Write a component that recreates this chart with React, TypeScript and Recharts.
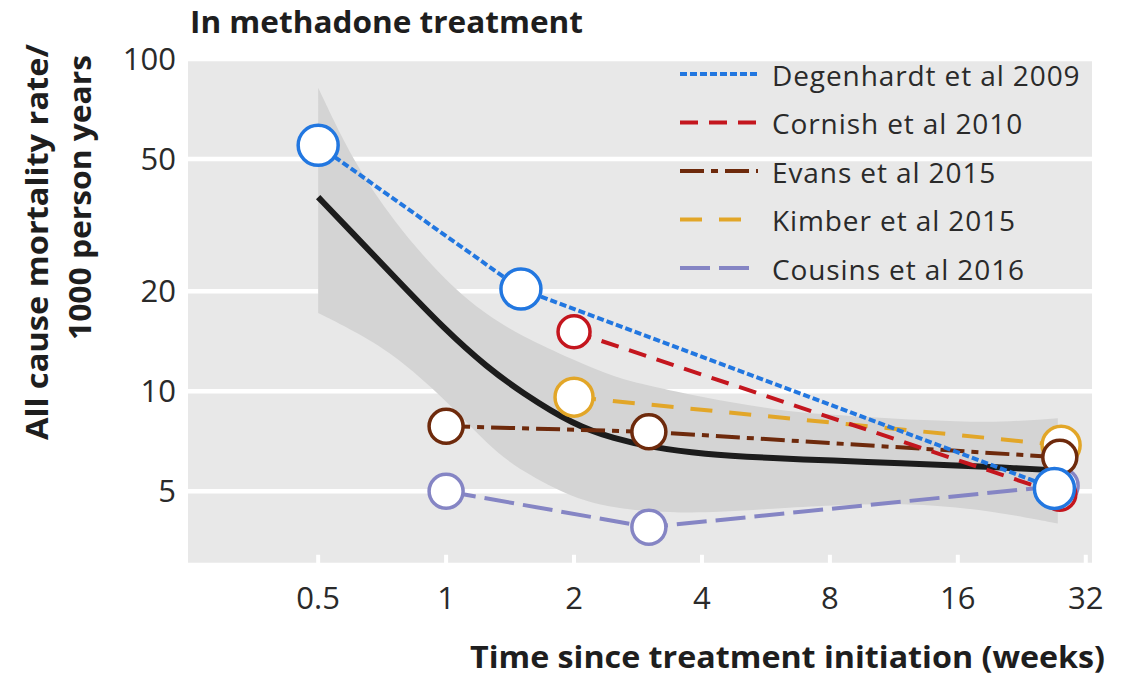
import React from "react";
import { ComposedChart, Line, Area, XAxis, YAxis, CartesianGrid, ReferenceLine } from "recharts";

const xTicks = [0.5, 1, 2, 4, 8, 16, 32];
const yTicks = [5, 10, 20, 50, 100];

// pooled fit with confidence band
const fitWeeks = [0.5, 0.6, 0.75, 1, 1.25, 1.5, 2, 2.5, 3, 4, 6, 8, 12, 16, 20, 27.5];
const fitRate = [38.4, 30.1, 22.3, 15.2, 11.8, 9.95, 7.9, 7.19, 6.81, 6.46, 6.28, 6.19, 6.07, 5.98, 5.9, 5.78];
const fitUpper = [82, 50, 32.5, 21.3, 16.9, 14.7, 12.4, 11.0, 10.4, 9.6, 8.76, 8.5, 8.23, 8.12, 8.06, 8.29];
const fitLower = [17.2, 15.3, 13.0, 9.4, 6.9, 5.75, 4.75, 4.45, 4.35, 4.29, 4.44, 4.54, 4.6, 4.47, 4.32, 4.0];

// individual studies
const degenhardtWeeks = [0.5, 1.5, 27];
const degenhardtRate = [55, 20.3, 5.1];
const cornishWeeks = [2, 27.8];
const cornishRate = [15.1, 4.9];
const evansWeeks = [1, 3, 27.8];
const evansRate = [7.85, 7.55, 6.33];
const kimberWeeks = [2, 28];
const kimberRate = [9.6, 6.88];
const cousinsWeeks = [1, 3, 28];
const cousinsRate = [5.0, 3.9, 5.2];

const fitData = fitWeeks.map((w, i) => ({
  week: w,
  rate: fitRate[i],
  band: [fitLower[i], fitUpper[i]],
}));

const toPoints = (weeks: number[], rates: number[]) =>
  weeks.map((w, i) => ({ week: w, rate: rates[i] }));

const studies = [
  { name: "Cousins et al 2016", data: toPoints(cousinsWeeks, cousinsRate), color: "#8585c4", dash: "30 9", r: 17 },
  { name: "Kimber et al 2015", data: toPoints(kimberWeeks, kimberRate), color: "#e2a628", dash: "22 17", r: 19 },
  { name: "Evans et al 2015", data: toPoints(evansWeeks, evansRate), color: "#6e2a0c", dash: "24 7 7 7", r: 17 },
  { name: "Cornish et al 2010", data: toPoints(cornishWeeks, cornishRate), color: "#c4161e", dash: "18 11", r: 16 },
  { name: "Degenhardt et al 2009", data: toPoints(degenhardtWeeks, degenhardtRate), color: "#2277e0", dash: "7 3", r: 20 },
];

const legendOrder = [4, 3, 2, 1, 0];
const legendOffsets = [0, 0, 0, 29, 0];

const FONT = "'Open Sans', 'DejaVu Sans', sans-serif";

const YTick = (props: any) => {
  const { x, y, payload } = props;
  return (
    <text x={x} y={y} dy="0.35em" textAnchor="end" fontFamily={FONT} fontSize={31} fill="#2a2a2a">
      {payload.value}
    </text>
  );
};

const XTick = (props: any) => {
  const { x, y, payload } = props;
  return (
    <text x={x} y={y + 25} dy="0.35em" textAnchor="middle" fontFamily={FONT} fontSize={31} fill="#2a2a2a">
      {payload.value}
    </text>
  );
};

export default function App() {
  return (
    <div style={{ position: "absolute", left: 0, top: 0, width: 1127, height: 676, background: "#fff" }}>
      <ComposedChart
        width={1127}
        height={676}
        data={fitData}
        margin={{ top: 59, right: 35, left: 0, bottom: 0 }}
      >
        <CartesianGrid vertical={false} fill="#e8e8e8" fillOpacity={1} stroke="#ffffff" strokeWidth={4.5} />
        <XAxis
          dataKey="week"
          type="number"
          scale="log"
          domain={[0.247, 33.1]}
          allowDataOverflow
          ticks={xTicks}
          height={111}
          tickLine={false}
          axisLine={false}
          tickSize={6}
          tickMargin={2}
          tick={<XTick />}
          interval={0}
        />
        <YAxis
          type="number"
          scale="log"
          domain={[3, 100]}
          allowDataOverflow
          ticks={yTicks}
          width={188}
          tickLine={false}
          axisLine={false}
          tickSize={6}
          tickMargin={6}
          tick={<YTick />}
          interval={0}
        />
        <Area
          dataKey="band"
          type="basis"
          stroke="none"
          fill="#d4d4d4"
          fillOpacity={1}
          isAnimationActive={false}
          dot={false}
          activeDot={false}
        />
        {xTicks.map((t) => (
          <ReferenceLine
            key={t}
            segment={[{ x: t, y: 3 }, { x: t, y: 3.22 }]}
            stroke="#ffffff"
            strokeWidth={4}
          />
        ))}
        <Line
          dataKey="rate"
          type="basis"
          stroke="#1c1c1c"
          strokeWidth={6}
          dot={false}
          activeDot={false}
          isAnimationActive={false}
        />
        {studies.map((s) => (
          <Line
            key={s.name}
            data={s.data}
            dataKey="rate"
            name={s.name}
            type="linear"
            stroke={s.color}
            strokeWidth={4}
            strokeDasharray={s.dash}
            dot={{ r: s.r, fill: "#ffffff", stroke: s.color, strokeWidth: 3.5, strokeDasharray: "none" }}
            activeDot={false}
            isAnimationActive={false}
          />
        ))}
      </ComposedChart>
      <svg
        width={1127}
        height={676}
        style={{ position: "absolute", left: 0, top: 0, pointerEvents: "none" }}
      >
        <text x={190} y={33} fontFamily={FONT} fontWeight={700} fontSize={31} fill="#1e1e1e"
          textLength={393} lengthAdjust="spacingAndGlyphs">
          In methadone treatment
        </text>
        <text transform="translate(48,44) rotate(-90)" textAnchor="end" fontFamily={FONT} fontWeight={700}
          fontSize={31} fill="#1e1e1e" textLength={396} lengthAdjust="spacingAndGlyphs">
          All cause mortality rate/
        </text>
        <text transform="translate(91,55) rotate(-90)" textAnchor="end" fontFamily={FONT} fontWeight={700}
          fontSize={31} fill="#1e1e1e" textLength={285} lengthAdjust="spacingAndGlyphs">
          1000 person years
        </text>
        <text x={1105} y={668} textAnchor="end" fontFamily={FONT} fontWeight={700} fontSize={31} fill="#1e1e1e"
          textLength={635} lengthAdjust="spacingAndGlyphs">
          Time since treatment initiation (weeks)
        </text>
        {legendOrder.map((idx, row) => {
          const s = studies[idx];
          const y = 74 + row * 48.5;
          return (
            <g key={s.name}>
              <line x1={680} x2={758} y1={y} y2={y} stroke={s.color} strokeWidth={4}
                strokeDasharray={s.dash} strokeDashoffset={legendOffsets[idx]} />
              <text x={772} y={y + 2} dy="0.35em" fontFamily={FONT} fontSize={28} letterSpacing={0.9} fill="#2a2a2a">
                {s.name}
              </text>
            </g>
          );
        })}
      </svg>
    </div>
  );
}
